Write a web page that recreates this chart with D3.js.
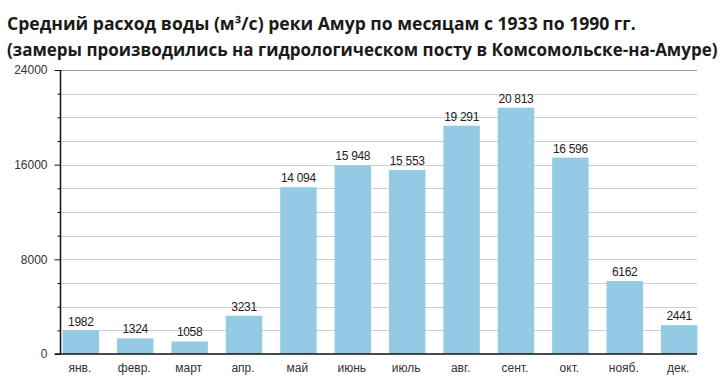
<!DOCTYPE html>
<html><head><meta charset="utf-8">
<script src="https://cdn.jsdelivr.net/npm/d3@7"></script>
<style>
html,body{margin:0;padding:0;background:#fff;}
svg{display:block;}
</style>
</head><body>
<svg id="chart" width="720" height="380"></svg>
<script>
const titleLines = [
  "Средний расход воды (м³/с) реки Амур по месяцам с 1933 по 1990 гг.",
  "(замеры производились на гидрологическом посту в Комсомольске-на-Амуре)"
];
const months = ["янв.","февр.","март","апр.","май","июнь","июль","авг.","сент.","окт.","нояб.","дек."];
const flow = [1982,1324,1058,3231,14094,15948,15553,19291,20813,16596,6162,2441];
const yLabelTicks = [0,8000,16000,24000];
const gridTicks = d3.range(0, 24001, 2000);

const svg = d3.select("#chart");
const x = d3.scaleBand().domain(months).range([61, 699]).paddingInner(0.33).paddingOuter(0.03);
const y = d3.scaleLinear().domain([0, 24000]).range([354, 70]);

// title
const titleTargets = [[7, 30, 636], [7, 56, 718]];
titleLines.forEach((t, i) => {
  const [tx, ty, tr] = titleTargets[i];
  const el = svg.append("text").attr("x", tx).attr("y", ty)
    .attr("font-family", "'Open Sans', 'Noto Sans', sans-serif")
    .attr("font-weight", "bold").attr("font-size", 19).attr("fill", "#1a1a1a").text(t);
  const w = el.node().getComputedTextLength();
  el.attr("font-size", 19 * (tr - tx) / w);
});

// gridlines
svg.append("g").selectAll("line").data(gridTicks.filter(d => d > 0)).join("line")
  .attr("x1", 61).attr("x2", 697)
  .attr("y1", d => Math.round(y(d)) + 0.5).attr("y2", d => Math.round(y(d)) + 0.5)
  .attr("stroke", d => d === 24000 ? "#9a9a9a" : "#cfcfcf").attr("stroke-width", 1.2);

// bars
svg.append("g").selectAll("rect").data(flow).join("rect")
  .attr("x", (d, i) => x(months[i])).attr("width", x.bandwidth())
  .attr("y", d => y(d)).attr("height", d => y(0) - y(d))
  .attr("fill", "#93cbe5");

// value labels
const fmt = d => d >= 10000 ? d3.format(",")(d).replace(",", " ") : String(d);
svg.append("g").selectAll("text").data(flow).join("text")
  .attr("x", (d, i) => x(months[i]) + x.bandwidth() / 2)
  .attr("y", d => y(d) - 5)
  .attr("text-anchor", "middle")
  .attr("font-family", "'Liberation Sans', Arial, sans-serif")
  .attr("font-size", 12).attr("letter-spacing", -0.3).attr("fill", "#222")
  .text(fmt);

// y axis
const yAxis = d3.axisLeft(y).tickValues(gridTicks).tickSize(4)
  .tickFormat(d => yLabelTicks.includes(d) ? d : "");
const gy = svg.append("g").attr("transform", "translate(60.5,0)").call(yAxis);
gy.select(".domain").attr("d", `M0,${y(24000)}V${y(0)}`).attr("stroke", "#111").attr("stroke-width", 1.5);
gy.selectAll(".tick line").attr("stroke", "#111")
  .attr("x2", d => yLabelTicks.includes(d) ? -6 : -3);
gy.selectAll(".tick text").attr("x", -13)
  .attr("font-family", "'Liberation Sans', Arial, sans-serif")
  .attr("font-size", 12).attr("fill", "#333");

// x axis
const xAxis = d3.axisBottom(x).tickSize(0).tickPadding(9);
const gx = svg.append("g").attr("transform", `translate(0,${y(0)})`).call(xAxis);
gx.select(".domain").attr("d", "M55,0H697").attr("stroke", "#111").attr("stroke-width", 1.5);
gx.selectAll(".tick text").attr("dx", -1)
  .attr("font-family", "'Liberation Sans', Arial, sans-serif")
  .attr("font-size", 12).attr("fill", "#333");
</script>
</body></html>
